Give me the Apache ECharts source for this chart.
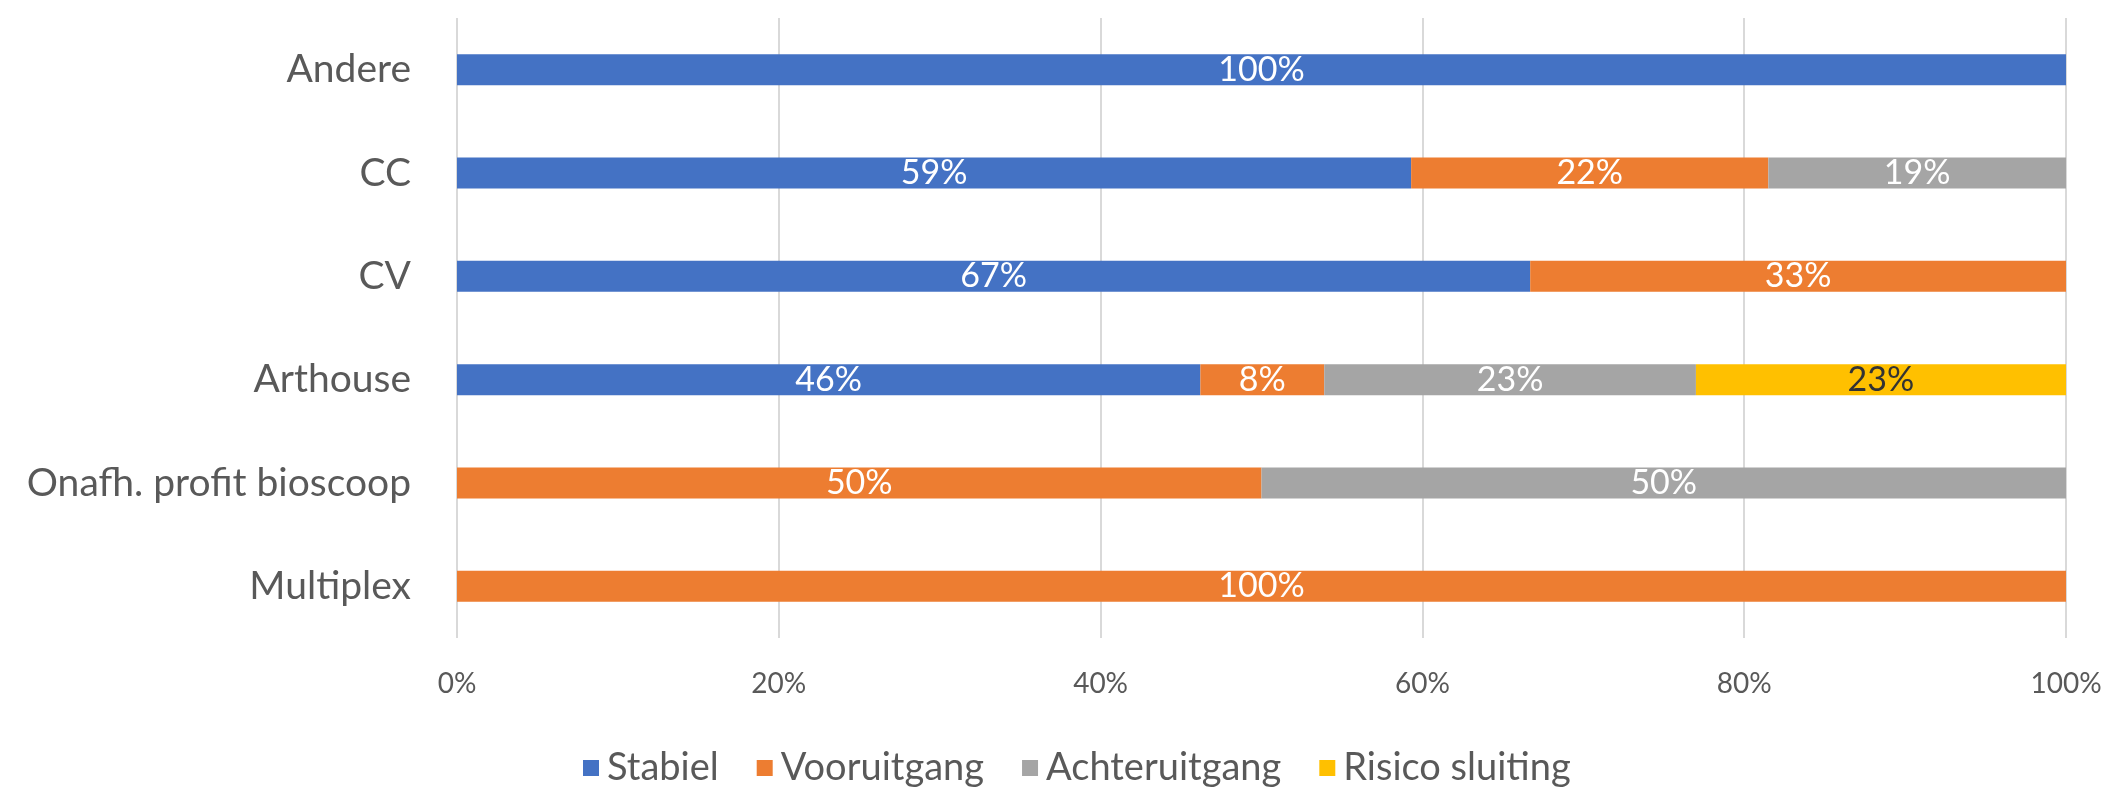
<!DOCTYPE html>
<html>
<head>
<meta charset="utf-8">
<script src="https://cdn.jsdelivr.net/npm/echarts@6/dist/echarts.min.js"></script>
<style>
  html, body { margin: 0; padding: 0; background: #fff; }
  #chart { width: 2108px; height: 787px; }
</style>
</head>
<body>
<div id="chart"></div>
<script>
// categories top to bottom
const categories = ["Andere", "CC", "CV", "Arthouse", "Onafh. profit bioscoop", "Multiplex"];
const seriesNames = ["Stabiel", "Vooruitgang", "Achteruitgang", "Risico sluiting"];
// shares in %
const stabiel = [100, 59.3, 66.7, 46.2, 0, 0];
const vooruitgang = [0, 22.2, 33.3, 7.7, 50, 100];
const achteruitgang = [0, 18.5, 0, 23.1, 50, 0];
const risicoSluiting = [0, 0, 0, 23.1, 0, 0];
const xTicks = [0, 20, 40, 60, 80, 100];

const colors = ["#4472c4", "#ed7d31", "#a5a5a5", "#ffc000"];
const labelColors = ["#ffffff", "#ffffff", "#ffffff", "#333333"];
const allData = [stabiel, vooruitgang, achteruitgang, risicoSluiting];
const FONT = "Lato";

const chart = echarts.init(document.getElementById("chart"));

const option = {
  animation: false,
  textStyle: { fontFamily: FONT },
  grid: { left: 457, right: 42, top: 18, bottom: 149 },
  legend: {
    data: seriesNames,
    bottom: -5,
    left: 578,
    itemWidth: 16,
    itemHeight: 16,
    itemGap: 38,
    icon: "rect",
    textStyle: { fontSize: 38, color: "#595959", fontFamily: FONT, padding: [0, 0, 0, 3] }
  },
  xAxis: {
    type: "value",
    min: xTicks[0],
    max: xTicks[xTicks.length - 1],
    interval: 20,
    axisLine: { show: false },
    axisTick: { show: false },
    splitLine: { show: true, lineStyle: { color: "#d9d9d9", width: 2 } },
    axisLabel: {
      color: "#595959",
      fontSize: 28,
      margin: 32,
      formatter: "{value}%"
    }
  },
  yAxis: {
    type: "category",
    data: categories,
    inverse: true,
    axisLine: { show: false },
    axisTick: { show: false },
    axisLabel: { color: "#595959", fontSize: 39, margin: 46 }
  },
  series: seriesNames.map((name, i) => ({
    name: name,
    type: "bar",
    stack: "total",
    barWidth: "30%",
    data: allData[i],
    itemStyle: { color: colors[i] },
    label: {
      show: true,
      position: "inside",
      color: labelColors[i],
      fontSize: 34,
      fontFamily: FONT,
      formatter: p => (p.value > 0 ? Math.round(p.value) + "%" : "")
    }
  }))
};

chart.setOption(option);
</script>
</body>
</html>
